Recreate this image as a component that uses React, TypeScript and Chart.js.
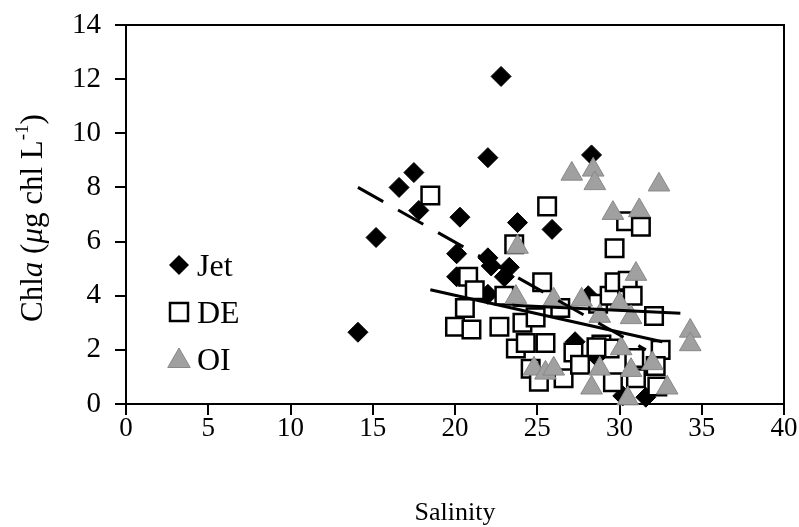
import React, { useEffect, useRef } from 'react';
import { Chart, registerables } from 'chart.js';

Chart.register(...registerables);

// ---- data ----
const seriesNames = ['Jet', 'DE', 'OI'];

const jetSalinity = [14.1, 15.2, 16.6, 17.5, 17.8, 20.1, 20.3, 20.1, 22.0, 22.0, 22.2, 22.0, 22.8, 23.0, 23.3, 23.8, 25.9, 28.3, 28.1, 27.3, 28.6, 30.2, 31.6];
const jetChl = [2.65, 6.15, 8.0, 8.55, 7.15, 5.55, 6.9, 4.7, 9.1, 5.4, 5.1, 4.05, 12.1, 4.7, 5.05, 6.7, 6.45, 9.2, 4.0, 2.3, 1.75, 0.3, 0.25];

const deSalinity = [18.5, 20.8, 21.2, 20.6, 20.0, 21.0, 22.7, 23.0, 23.6, 24.1, 24.9, 23.7, 24.3, 25.5, 24.6, 25.1, 26.6, 25.3, 25.6, 26.4, 27.2, 27.6, 28.7, 28.9, 29.4, 29.4, 29.7, 30.5, 30.8, 29.7, 30.4, 31.3, 29.6, 31.0, 32.1, 32.5, 32.3, 28.6, 30.9, 32.2];
const deChl = [7.7, 4.7, 4.2, 3.55, 2.85, 2.75, 2.85, 4.0, 5.9, 3.0, 3.2, 2.05, 2.25, 2.25, 1.3, 0.82, 0.95, 4.5, 7.3, 3.55, 1.9, 1.45, 3.7, 2.2, 2.05, 4.0, 4.5, 4.55, 4.0, 5.75, 6.75, 6.55, 0.8, 0.95, 3.25, 2.0, 0.65, 2.1, 1.7, 1.4];

const oiSalinity = [23.8, 23.7, 24.8, 25.5, 26.0, 26.0, 27.1, 27.7, 28.4, 28.5, 28.8, 28.8, 28.3, 29.6, 30.0, 30.1, 30.7, 30.7, 30.5, 31.0, 31.2, 32.0, 32.4, 32.9, 34.3, 34.3];
const oiChl = [5.8, 3.95, 1.3, 1.15, 1.3, 3.85, 8.5, 3.85, 8.65, 8.15, 1.3, 3.25, 0.6, 7.05, 3.7, 2.05, 3.2, 1.25, 0.2, 4.8, 7.15, 1.5, 8.1, 0.6, 2.7, 2.2];

const jetTrendX = [14.1, 31.6];
const jetTrendY = [8.0, 2.0];
const deTrendX = [18.5, 32.6];
const deTrendY = [4.22, 2.3];
const oiTrendX = [23.5, 33.7];
const oiTrendY = [3.65, 3.35];

const xTicks = [0, 5, 10, 15, 20, 25, 30, 35, 40];
const yTicks = [0, 2, 4, 6, 8, 10, 12, 14];
const xTitle = 'Salinity';
const yTitleParts = [
  { text: 'Chl', style: 'normal' },
  { text: 'a', style: 'italic' },
  { text: ' (', style: 'normal' },
  { text: 'μ', style: 'italic' },
  { text: 'g chl L', style: 'normal' },
  { text: '-1', style: 'sup' },
  { text: ')', style: 'normal' },
];

const FAM = "'Liberation Serif', 'Times New Roman', serif";
const OI_FILL = '#a0a0a0';
const OI_EDGE = '#888888';

const pts = (xs: number[], ys: number[]) => xs.map((x, i) => ({ x, y: ys[i] }));

function diamond(ctx: CanvasRenderingContext2D, x: number, y: number, r: number) {
  ctx.beginPath();
  ctx.moveTo(x - r, y);
  ctx.lineTo(x, y - r);
  ctx.lineTo(x + r, y);
  ctx.lineTo(x, y + r);
  ctx.closePath();
}
function triangle(ctx: CanvasRenderingContext2D, x: number, y: number, r: number) {
  ctx.beginPath();
  for (let k = 0; k < 3; k++) {
    const a = (k * 2 * Math.PI) / 3;
    const px = x + Math.sin(a) * r;
    const py = y - Math.cos(a) * r;
    if (k === 0) ctx.moveTo(px, py); else ctx.lineTo(px, py);
  }
  ctx.closePath();
}

const boxPlugin = {
  id: 'box',
  beforeDatasetsDraw(chart: any) {
    const { ctx, chartArea: a } = chart;
    ctx.save();
    ctx.strokeStyle = '#000';
    ctx.lineWidth = 2;
    ctx.strokeRect(a.left, a.top, a.right - a.left, a.bottom - a.top);
    ctx.restore();
  },
};

const textPlugin = {
  id: 'texts',
  afterDraw(chart: any) {
    const { ctx, chartArea: a } = chart;
    ctx.save();
    ctx.fillStyle = '#000';
    // x title
    ctx.font = `26px ${FAM}`;
    ctx.textAlign = 'center';
    ctx.textBaseline = 'alphabetic';
    ctx.fillText(xTitle, (a.left + a.right) / 2, 520);

    // y title (mixed styles)
    const size = 31;
    const fontFor = (s: string) =>
      s === 'italic' ? `italic ${size}px ${FAM}` : s === 'sup' ? `${Math.round(size * 0.62)}px ${FAM}` : `${size}px ${FAM}`;
    ctx.textAlign = 'left';
    let total = 0;
    const widths = yTitleParts.map((p) => {
      ctx.font = fontFor(p.style);
      const w = ctx.measureText(p.text).width;
      total += w;
      return w;
    });
    ctx.translate(33, 218);
    ctx.rotate(-Math.PI / 2);
    let x = -total / 2;
    const base = size * 0.28;
    yTitleParts.forEach((p, i) => {
      ctx.font = fontFor(p.style);
      ctx.fillText(p.text, x, p.style === 'sup' ? base - size * 0.45 : base);
      x += widths[i];
    });
    ctx.restore();

    // legend
    ctx.save();
    const lx = 179;
    const rows = [265, 312, 359];
    ctx.fillStyle = '#000';
    diamond(ctx, lx, rows[0], 10);
    ctx.fill();
    ctx.fillStyle = '#fff';
    ctx.strokeStyle = '#000';
    ctx.lineWidth = 2.5;
    ctx.fillRect(lx - 9, rows[1] - 9, 18, 18);
    ctx.strokeRect(lx - 9, rows[1] - 9, 18, 18);
    ctx.fillStyle = OI_FILL;
    ctx.strokeStyle = OI_EDGE;
    ctx.lineWidth = 1;
    triangle(ctx, lx, rows[2] + 2, 13);
    ctx.fill();
    ctx.stroke();
    ctx.fillStyle = '#000';
    ctx.font = `32px ${FAM}`;
    ctx.textAlign = 'left';
    ctx.textBaseline = 'alphabetic';
    seriesNames.forEach((n, i) => ctx.fillText(n, 197, rows[i] + 11));
    ctx.restore();
  },
};

export default function App() {
  const ref = useRef<HTMLCanvasElement | null>(null);
  useEffect(() => {
    if (!ref.current) return;
    const chart = new Chart(ref.current, {
      type: 'scatter',
      data: {
        datasets: [
          { label: 'Jet trend', data: pts(jetTrendX, jetTrendY), showLine: true, pointRadius: 0, borderColor: '#000', borderWidth: 3, borderDash: [29, 17], order: 0, clip: false } as any,
          { label: 'DE trend', data: pts(deTrendX, deTrendY), showLine: true, pointRadius: 0, borderColor: '#000', borderWidth: 3, order: 0, clip: false },
          { label: 'OI trend', data: pts(oiTrendX, oiTrendY), showLine: true, pointRadius: 0, borderColor: '#000', borderWidth: 3, order: 0, clip: false },
          { label: seriesNames[2], data: pts(oiSalinity, oiChl), pointStyle: 'triangle', pointRadius: 12.5, backgroundColor: OI_FILL, borderColor: OI_EDGE, borderWidth: 1, order: 1, clip: false },
          { label: seriesNames[1], data: pts(deSalinity, deChl), pointStyle: 'rect', pointRadius: 12.4, backgroundColor: '#fff', borderColor: '#000', borderWidth: 2.5, order: 2, clip: false },
          { label: seriesNames[0], data: pts(jetSalinity, jetChl), pointStyle: 'rectRot', pointRadius: 10, backgroundColor: '#000', borderColor: '#000', borderWidth: 1, order: 3, clip: false },
        ],
      },
      options: {
        responsive: false,
        animation: false,
        devicePixelRatio: 1,
        layout: { padding: { left: 0, top: 25, right: 15, bottom: 0 } },
        plugins: { legend: { display: false }, tooltip: { enabled: false } },
        scales: {
          x: {
            type: 'linear',
            min: 0,
            max: 40,
            afterBuildTicks: (s: any) => { s.ticks = xTicks.map((v) => ({ value: v })); },
            afterFit: (s: any) => { s.height = 123; s.paddingLeft = 0; s.paddingRight = 0; },
            grid: { drawOnChartArea: false, drawTicks: true, tickLength: 11, color: '#000', lineWidth: 2 },
            border: { display: true, color: '#000', width: 2 },
            ticks: { color: '#000', font: { family: FAM, size: 27 }, padding: -2, maxRotation: 0 },
          },
          y: {
            type: 'linear',
            min: 0,
            max: 14,
            afterBuildTicks: (s: any) => { s.ticks = yTicks.map((v) => ({ value: v })); },
            afterFit: (s: any) => { s.width = 126; s.paddingTop = 0; s.paddingBottom = 0; },
            grid: { drawOnChartArea: false, drawTicks: true, tickLength: 11, color: '#000', lineWidth: 2 },
            border: { display: true, color: '#000', width: 2 },
            ticks: { color: '#000', font: { family: FAM, size: 29 }, padding: 14 },
          },
        },
      },
      plugins: [boxPlugin, textPlugin],
    });
    return () => chart.destroy();
  }, []);
  return (
    <div style={{ position: 'absolute', left: 0, top: 0, width: 799, height: 527, background: '#fff' }}>
      <canvas ref={ref} width={799} height={527} style={{ display: 'block' }} />
    </div>
  );
}
